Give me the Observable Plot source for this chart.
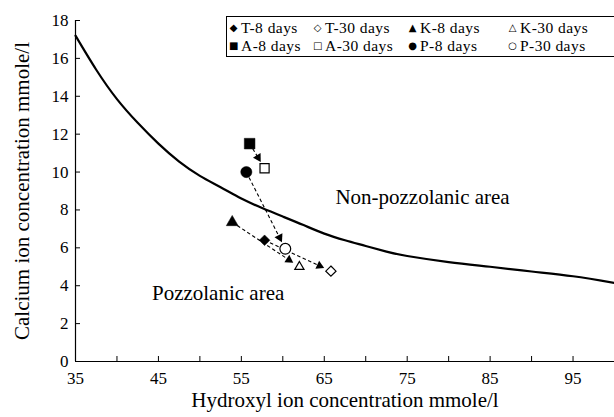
<!DOCTYPE html>
<html>
<head>
<meta charset="utf-8">
<script src="https://cdn.jsdelivr.net/npm/d3@7"></script>
<script src="https://cdn.jsdelivr.net/npm/@observablehq/plot@0.6"></script>
<style>
  html, body { margin: 0; padding: 0; background: #fff; }
  #wrap { position: relative; width: 614px; height: 417px; overflow: hidden; background: #fff; }
  #legend { position: absolute; left: 226px; top: 16px; width: 420px; height: 41px;
            border: 1px solid #000; background: #fff; box-sizing: border-box; }
  .item { position: absolute; display: flex; align-items: center; white-space: nowrap; height: 17px;
          font-family: "Liberation Serif", serif; font-size: 15.5px; letter-spacing: 0.45px; color: #000; line-height: 17px; }
  .sym { font-family: "DejaVu Sans", sans-serif; font-size: 10px; width: 9px; margin-right: 3px; text-align: center; letter-spacing: 0; }
</style>
</head>
<body>
<div id="wrap"><div id="chart"></div><div id="legend"></div></div>
<script>
// ---- data ----
const curveX = [35, 37.5, 40, 42.5, 45, 47.5, 50, 52.5, 55, 57.5, 60, 62.5, 65, 67.5, 70, 72.5, 75, 80, 85, 90, 95, 100];
const curveY = [17.2, 15.4, 13.85, 12.6, 11.5, 10.55, 9.8, 9.2, 8.6, 8.1, 7.65, 7.2, 6.75, 6.4, 6.1, 5.8, 5.57, 5.25, 5.0, 4.75, 4.5, 4.15];

const seriesNames = ["T-8 days", "T-30 days", "K-8 days", "K-30 days", "A-8 days", "A-30 days", "P-8 days", "P-30 days"];
const seriesX = [57.8, 65.8, 53.9, 62.0, 56.0, 57.8, 55.6, 60.3];
const seriesY = [6.4, 4.77, 7.35, 5.0, 11.5, 10.2, 10.0, 5.95];

const arrowFrom = ["T-8 days", "K-8 days", "A-8 days", "P-8 days"];
const arrowTo = ["T-30 days", "K-30 days", "A-30 days", "P-30 days"];

const xTickLabels = [35, 45, 55, 65, 75, 85, 95];
const xTickMarks = [35, 40, 45, 50, 55, 60, 65, 70, 75, 80, 85, 90, 95, 100];
const yTickLabels = [0, 2, 4, 6, 8, 10, 12, 14, 16, 18];

const annotationText = ["Non-pozzolanic area", "Pozzolanic area"];
const annotationX = [76.85, 52.2];
const annotationY = [8.66, 3.59];

const xTitle = "Hydroxyl ion concentration mmole/l";
const yTitle = "Calcium ion concentration mmole/l";

// ---- styles ----
const markerStyle = {
  "T-8 days":  {symbol: "diamond2", filled: true,  r: 4.8, glyph: "\u25C6"},
  "T-30 days": {symbol: "diamond2", filled: false, r: 4.6, glyph: "\u25C7"},
  "K-8 days":  {symbol: "triangle", filled: true,  r: 4.4, glyph: "\u25B2"},
  "K-30 days": {symbol: "triangle2", filled: false, r: 4.4, glyph: "\u25B3"},
  "A-8 days":  {symbol: "square",   filled: true,  r: 6.0, glyph: "\u25A0"},
  "A-30 days": {symbol: "square2",  filled: false, r: 5.8, glyph: "\u25A1"},
  "P-8 days":  {symbol: "circle",   filled: true,  r: 5.6, glyph: "\u25CF"},
  "P-30 days": {symbol: "circle",   filled: false, r: 5.4, glyph: "\u25CB"}
};

// ---- layout ----
const W = 614, H = 417, ML = 75, MR = 0, MT = 20, MB = 56;
const xDom = [35, 100], yDom = [0, 18];
const plotW = W - ML - MR, plotH = H - MT - MB;
const kx = plotW / (xDom[1] - xDom[0]);
const ky = plotH / (yDom[1] - yDom[0]);

const points = seriesNames.map((name, i) => ({name, x: seriesX[i], y: seriesY[i]}));
const byName = Object.fromEntries(points.map(p => [p.name, p]));
const curve = curveX.map((x, i) => ({x, y: curveY[i]}));
const annotations = annotationText.map((t, i) => ({t, x: annotationX[i], y: annotationY[i]}));

const lineGap = 10, headGap = 12.5;
const arrows = arrowFrom.map((f, i) => {
  const a = byName[f], b = byName[arrowTo[i]];
  const dxs = (b.x - a.x) * kx, dys = -(b.y - a.y) * ky;
  const len = Math.hypot(dxs, dys);
  const ux = dxs / len, uy = dys / len;
  return {
    x1: a.x, y1: a.y,
    x2: b.x - lineGap * ux / kx, y2: b.y + lineGap * uy / ky,
    hx: b.x - headGap * ux / kx, hy: b.y + headGap * uy / ky,
    rot: Math.atan2(ux, -uy) * 180 / Math.PI
  };
});

const font = "Liberation Serif, serif";

const markerMarks = points.map(p => {
  const s = markerStyle[p.name];
  return Plot.dot([p], {
    x: "x", y: "y", symbol: () => s.symbol, r: s.r,
    fill: s.filled ? "#000" : "#fff",
    stroke: "#000", strokeWidth: s.filled ? 0.5 : 1.2
  });
});

const chart = Plot.plot({
  width: W, height: H,
  marginLeft: ML, marginRight: MR, marginTop: MT, marginBottom: MB,
  x: {domain: xDom},
  y: {domain: yDom},
  symbol: {type: "identity"},
  style: {fontFamily: font, fontSize: "17px", color: "#000", background: "#fff"},
  marks: [
    Plot.line(curve, {x: "x", y: "y", curve: "natural", stroke: "#000", strokeWidth: 2.2}),
    Plot.link(arrows, {x1: "x1", y1: "y1", x2: "x2", y2: "y2", stroke: "#000", strokeWidth: 1.1, strokeDasharray: "3.5,2.5"}),
    Plot.dot(arrows, {x: "hx", y: "hy", symbol: "triangle", r: 3.3, rotate: "rot", fill: "#000"}),
    ...markerMarks,
    Plot.text(annotations, {x: "x", y: "y", text: "t", fontSize: 21, fill: "#000", letterSpacing: 0.3}),
    Plot.ruleY([0], {stroke: "#000", strokeWidth: 1.2}),
    Plot.ruleX([35], {stroke: "#000", strokeWidth: 1.2}),
    Plot.tickX(xTickMarks, {x: d => d, insetTop: plotH - 5, stroke: "#000"}),
    Plot.tickY(yTickLabels, {y: d => d, insetRight: plotW - 5, stroke: "#000"}),
    Plot.axisX({ticks: xTickLabels, tickSize: 0, tickPadding: 10, label: null, fontSize: 17}),
    Plot.axisY({ticks: yTickLabels, tickSize: 0, tickPadding: 7, label: null, fontSize: 17}),
    Plot.text([xTitle], {text: d => d, frameAnchor: "bottom", textAnchor: "middle", dy: 45, fontSize: 21, fill: "#000", letterSpacing: 0.3}),
    Plot.text([yTitle], {text: d => d, frameAnchor: "left", textAnchor: "middle", rotate: -90, dx: -53, fontSize: 21, fill: "#000", letterSpacing: 0.3})
  ]
});
document.getElementById("chart").appendChild(chart);

// ---- legend ----
const legend = document.getElementById("legend");
const colLeft = [2, 86, 181, 281];
const rowTop = [2, 20];
const legendOrder = [["T-8 days", "T-30 days", "K-8 days", "K-30 days"], ["A-8 days", "A-30 days", "P-8 days", "P-30 days"]];
legendOrder.forEach((row, ri) => row.forEach((name, ci) => {
  const it = document.createElement("div");
  it.className = "item";
  it.style.left = colLeft[ci] + "px";
  it.style.top = rowTop[ri] + "px";
  const sy = document.createElement("span");
  sy.className = "sym";
  sy.textContent = markerStyle[name].glyph;
  const tx = document.createElement("span");
  tx.textContent = name;
  it.appendChild(sy); it.appendChild(tx);
  legend.appendChild(it);
}));
</script>
</body>
</html>
